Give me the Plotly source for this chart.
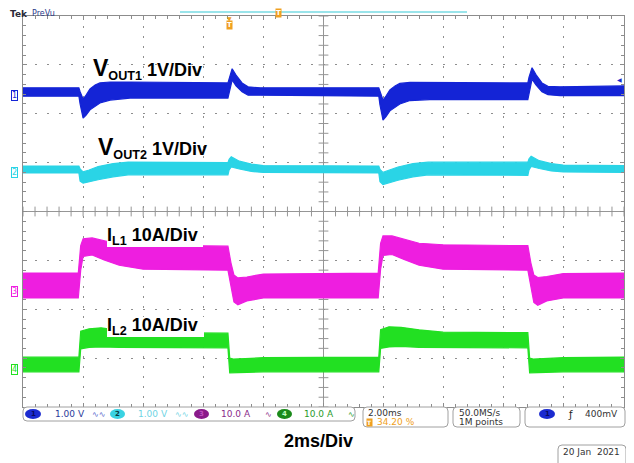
import numpy as np
import plotly.graph_objects as go

# page body has an 8px margin, so the figure is shifted by 8px; keep reference pixel coordinates
OFF = 8
W, H = 634 - OFF, 463 - OFF

# ---------------- data (time in ms, levels in screen divisions, 0 = bottom, 8 = top) -------------
ch1_t  = [0.00, 1.86, 1.90, 2.00, 2.10, 2.23, 2.40, 2.56, 2.90, 3.56, 6.82, 6.86, 6.96, 7.09, 7.29, 7.49, 7.89,
          11.84, 11.88, 11.98, 12.08, 12.21, 12.38, 12.54, 12.88, 13.54, 16.80, 16.84, 16.94, 17.07, 17.27, 17.47, 17.87, 20.00]
ch1_hi = [6.53, 6.53, 6.45, 6.30, 6.38, 6.51, 6.59, 6.63, 6.65, 6.65, 6.63, 6.73, 6.92, 6.79, 6.63, 6.55, 6.53,
          6.53, 6.45, 6.28, 6.36, 6.49, 6.57, 6.62, 6.64, 6.64, 6.63, 6.75, 6.94, 6.80, 6.63, 6.56, 6.55, 6.57]
ch1_lo = [6.36, 6.36, 6.20, 5.91, 5.97, 6.08, 6.16, 6.22, 6.28, 6.32, 6.32, 6.45, 6.69, 6.57, 6.45, 6.38, 6.38,
          6.36, 6.18, 5.87, 5.94, 6.06, 6.14, 6.20, 6.27, 6.29, 6.29, 6.45, 6.71, 6.59, 6.45, 6.39, 6.37, 6.37]

ch2_t  = [0.00, 1.86, 1.90, 2.00, 2.20, 2.50, 3.00, 3.50, 6.82, 6.86, 6.93, 7.20, 7.60, 8.00,
          11.84, 11.88, 11.98, 12.18, 12.48, 12.98, 13.48, 16.80, 16.84, 16.91, 17.18, 17.58, 17.98, 20.00]
ch2_hi = [4.93, 4.93, 4.87, 4.81, 4.85, 4.92, 4.98, 5.01, 5.00, 5.07, 5.12, 5.03, 4.97, 4.94,
          4.93, 4.86, 4.80, 4.84, 4.91, 4.98, 5.01, 5.01, 5.08, 5.13, 5.04, 4.98, 4.95, 4.94]
ch2_lo = [4.79, 4.79, 4.62, 4.58, 4.60, 4.65, 4.71, 4.75, 4.75, 4.85, 4.91, 4.87, 4.82, 4.80,
          4.79, 4.61, 4.55, 4.58, 4.64, 4.71, 4.75, 4.74, 4.85, 4.92, 4.88, 4.83, 4.81, 4.80]

ch3_t  = [0.00, 1.84, 1.92, 2.00, 2.30, 2.70, 3.20, 4.00, 6.82, 6.92, 7.02, 7.15, 7.45, 8.00,
          11.82, 11.90, 11.98, 12.28, 12.68, 13.18, 13.98, 16.80, 16.90, 17.00, 17.13, 17.43, 17.98, 20.00]
ch3_hi = [2.74, 2.74, 3.30, 3.44, 3.46, 3.40, 3.33, 3.31, 3.29, 2.95, 2.70, 2.64, 2.66, 2.72,
          2.74, 3.35, 3.50, 3.50, 3.43, 3.35, 3.32, 3.30, 2.95, 2.70, 2.65, 2.67, 2.73, 2.74]
ch3_lo = [2.23, 2.23, 2.80, 3.08, 3.11, 3.01, 2.90, 2.82, 2.80, 2.45, 2.15, 2.09, 2.17, 2.23,
          2.23, 2.82, 3.10, 3.12, 3.02, 2.90, 2.82, 2.80, 2.45, 2.14, 2.08, 2.17, 2.23, 2.23]

ch4_t  = [0.00, 1.86, 1.92, 2.20, 2.60, 3.20, 4.00, 6.82, 6.88, 7.00, 7.40, 8.00,
          11.84, 11.90, 12.18, 12.58, 13.18, 13.98, 16.80, 16.86, 16.98, 17.38, 17.98, 20.00]
ch4_hi = [1.02, 1.02, 1.55, 1.60, 1.62, 1.57, 1.52, 1.51, 1.00, 0.98, 0.99, 1.01,
          1.02, 1.58, 1.64, 1.63, 1.58, 1.53, 1.52, 1.00, 0.98, 0.99, 1.01, 1.02]
ch4_lo = [0.72, 0.72, 1.19, 1.22, 1.23, 1.22, 1.21, 1.21, 0.70, 0.69, 0.71, 0.72,
          0.72, 1.20, 1.23, 1.24, 1.22, 1.21, 1.21, 0.70, 0.69, 0.71, 0.72, 0.72]

colors = ["#1424d6", "#2ad4e6", "#ee1ee0", "#22e022"]
ch_labels = ["1", "2", "3", "4"]
ch_marker_px = [95, 172, 291, 369]

# ---------------- helpers for layout placement (reference pixels -> paper) -------------
def px(x):
    return (x - OFF) / W

def py(y):
    return 1 - (y - OFF) / H

X0, X1, Y0, Y1 = 23, 624, 16, 407

fig = go.Figure()

grid_col = "#969696"
fig.add_trace(go.Scatter(x=np.arange(0, 20.001, 0.4), y=[4] * 51, mode="markers",
                         marker=dict(symbol="line-ns", size=7, line=dict(color=grid_col, width=1)),
                         hoverinfo="skip", showlegend=False))
fig.add_trace(go.Scatter(x=[10] * 41, y=np.arange(0, 8.001, 0.2), mode="markers",
                         marker=dict(symbol="line-ew", size=7, line=dict(color=grid_col, width=1)),
                         hoverinfo="skip", showlegend=False))

for t, hi, lo, c in [(ch1_t, ch1_hi, ch1_lo, colors[0]), (ch2_t, ch2_hi, ch2_lo, colors[1]),
                     (ch3_t, ch3_hi, ch3_lo, colors[2]), (ch4_t, ch4_hi, ch4_lo, colors[3])]:
    fig.add_trace(go.Scatter(x=list(t) + list(t)[::-1], y=list(hi) + list(lo)[::-1],
                             fill="toself", fillcolor=c, mode="lines",
                             line=dict(color=c, width=1.2), hoverinfo="skip", showlegend=False))

shapes = []
shapes.append(dict(type="line", xref="x", yref="y", x0=0, x1=20, y0=4, y1=4,
                   line=dict(color=grid_col, width=1), layer="below"))
shapes.append(dict(type="line", xref="x", yref="y", x0=10, x1=10, y0=0, y1=8,
                   line=dict(color=grid_col, width=1), layer="below"))

for (a, b, c_, d) in [(107, 203, 225, 247), (107, 204, 317, 337)]:
    shapes.append(dict(type="rect", xref="paper", yref="paper", x0=px(a), x1=px(b), y0=py(d), y1=py(c_),
                       fillcolor="white", line=dict(width=0), layer="above"))

shapes.append(dict(type="line", xref="paper", yref="paper", x0=px(180), x1=px(467), y0=py(12), y1=py(12),
                   line=dict(color="#9ae4ea", width=2)))


def rrect(x0, y0, x1, y1, r=4):
    rx, ry = r / W, r / H
    a, b, c, d = px(x0), px(x1), py(y1), py(y0)
    return (f"M {a+rx},{c} L {b-rx},{c} Q {b},{c} {b},{c+ry} L {b},{d-ry} Q {b},{d} {b-rx},{d} "
            f"L {a+rx},{d} Q {a},{d} {a},{d-ry} L {a},{c+ry} Q {a},{c} {a+rx},{c} Z")

for (a, b, c_, d) in [(23, 355, 407, 421), (363, 448, 407, 427), (453, 520, 407, 427), (525, 625, 407, 427),
                      (558, 626, 445, 470)]:
    shapes.append(dict(type="path", xref="paper", yref="paper", path=rrect(a, c_, b, d),
                       line=dict(color="#a0a0a0", width=1), fillcolor="white"))

badges = [(25, 41, "#1a2ad0", "1", "#0a0a60"), (110, 125, "#3ad2e2", "2", "#0a3a40"),
          (194, 209, "#8a1a8a", "3", "#c050c0"), (277, 292, "#1a8a1a", "4", "#c0ffc0"),
          (539, 555, "#1a2ad0", "1", "#0a0a60")]
for a, b, fc, _, _ in badges:
    shapes.append(dict(type="circle", xref="paper", yref="paper", x0=px(a), x1=px(b), y0=py(419), y1=py(409),
                       fillcolor=fc, line=dict(width=0)))

ann = []
lab_font = dict(family="Liberation Sans, Arial", size=18, color="black")
ann.append(dict(x=px(91), y=py(69), xref="paper", yref="paper", xanchor="left", yanchor="middle",
                text="<b><span style='font-size:23px'>V</span><sub>OUT1</sub> 1V/Div</b>", showarrow=False, font=lab_font))
ann.append(dict(x=px(96), y=py(148), xref="paper", yref="paper", xanchor="left", yanchor="middle",
                text="<b><span style='font-size:23px'>V</span><sub>OUT2</sub> 1V/Div</b>", showarrow=False, font=lab_font))
ann.append(dict(x=px(105), y=py(236), xref="paper", yref="paper", xanchor="left", yanchor="middle",
                text="<b>I<sub>L1</sub> 10A/Div</b>", showarrow=False, font=lab_font))
ann.append(dict(x=px(105), y=py(326), xref="paper", yref="paper", xanchor="left", yanchor="middle",
                text="<b>I<sub>L2</sub> 10A/Div</b>", showarrow=False, font=lab_font))
ann.append(dict(x=px(318), y=py(441), xref="paper", yref="paper", xanchor="center", yanchor="middle",
                text="<b>2ms/Div</b>", showarrow=False, font=lab_font))

small = "DejaVu Sans"
def txt(x, y, s, color="#333333", size=9, anchor="left", bold=False, **kw):
    if bold:
        s = f"<b>{s}</b>"
    d = dict(x=px(x), y=py(y), xref="paper", yref="paper", xanchor=anchor, yanchor="middle",
             text=s, showarrow=False, font=dict(family=small, size=size, color=color))
    d.update(kw)
    ann.append(d)

txt(9, 14, "Tek", color="#2a2a3a", size=9, bold=True, borderpad=0)
txt(31, 14, "PreVu", color="#2a3a8a", size=8, borderpad=0)

for lab, yy, c in zip(ch_labels, ch_marker_px, colors):
    txt(14, yy, lab, color=c, size=8, anchor="center", bordercolor=c, borderwidth=1, borderpad=0,
        bgcolor="white")

txt(619, 79, "◀", color="#1a2ad0", size=6, anchor="center")
txt(278, 13, "<b>T</b>", color="#ffffff", size=7, anchor="center", bgcolor="#f0a020", borderpad=0)
txt(229, 18, "▼", color="#f0a020", size=6, anchor="center")
txt(229, 25, "<b>T</b>", color="#ffffff", size=7, anchor="center", bgcolor="#f0a020", borderpad=0)

for a, b, _, lab, tc in badges:
    txt((a + b) / 2, 414, lab, color=tc, size=7, anchor="center", bold=True)
txt(53, 414, "1.00 V", color="#2a3a9a")
txt(90, 414, "∿∿", color="#5566cc", size=8)
txt(136, 414, "1.00 V", color="#6fd4e4")
txt(173, 414, "∿∿", color="#6fd4e4", size=8)
txt(219, 414, "10.0 A", color="#8a2a8a")
txt(263, 414, "∿", color="#8a2a8a", size=8)
txt(302, 414, "10.0 A", color="#2a9a2a")
txt(346, 414, "∿", color="#2a9a2a", size=8)
txt(366, 413, "2.00ms", color="#333333")
txt(366, 422, "<b>T</b>", color="#ffffff", size=6, bgcolor="#f0a020", borderpad=0)
txt(375, 422, "34.20 %", color="#f0a020")
txt(457, 413, "50.0MS/s", color="#333333")
txt(457, 422, "1M points", color="#333333")
txt(566, 414, "ƒ", color="#222222", size=10)
txt(620, 414, "400mV", color="#333333", anchor="right")
txt(561, 452, "20 Jan  2021", color="#333333")

axis_common = dict(showticklabels=False, zeroline=False, showline=True, linecolor="#8c8c8c", linewidth=1,
                   mirror="ticks", ticks="inside", ticklen=4, tickcolor="#8c8c8c",
                   showgrid=True, gridcolor="#8e8e8e", gridwidth=1, fixedrange=True)
fig.update_layout(
    width=W, height=H, margin=dict(l=0, r=0, t=0, b=0),
    paper_bgcolor="white", plot_bgcolor="white", showlegend=False,
    xaxis=dict(domain=[px(X0), px(X1)], range=[0, 20], dtick=2, tick0=0, griddash="2px,8px",
               minor=dict(dtick=0.4, ticks="inside", ticklen=3, tickcolor="#8c8c8c", showgrid=False),
               **axis_common),
    yaxis=dict(domain=[py(Y1), py(Y0)], range=[0, 8], dtick=1, tick0=0, griddash="2px,10px",
               minor=dict(dtick=0.2, ticks="inside", ticklen=3, tickcolor="#8c8c8c", showgrid=False),
               **axis_common),
    shapes=shapes, annotations=ann,
)

fig.write_html("out.html")
